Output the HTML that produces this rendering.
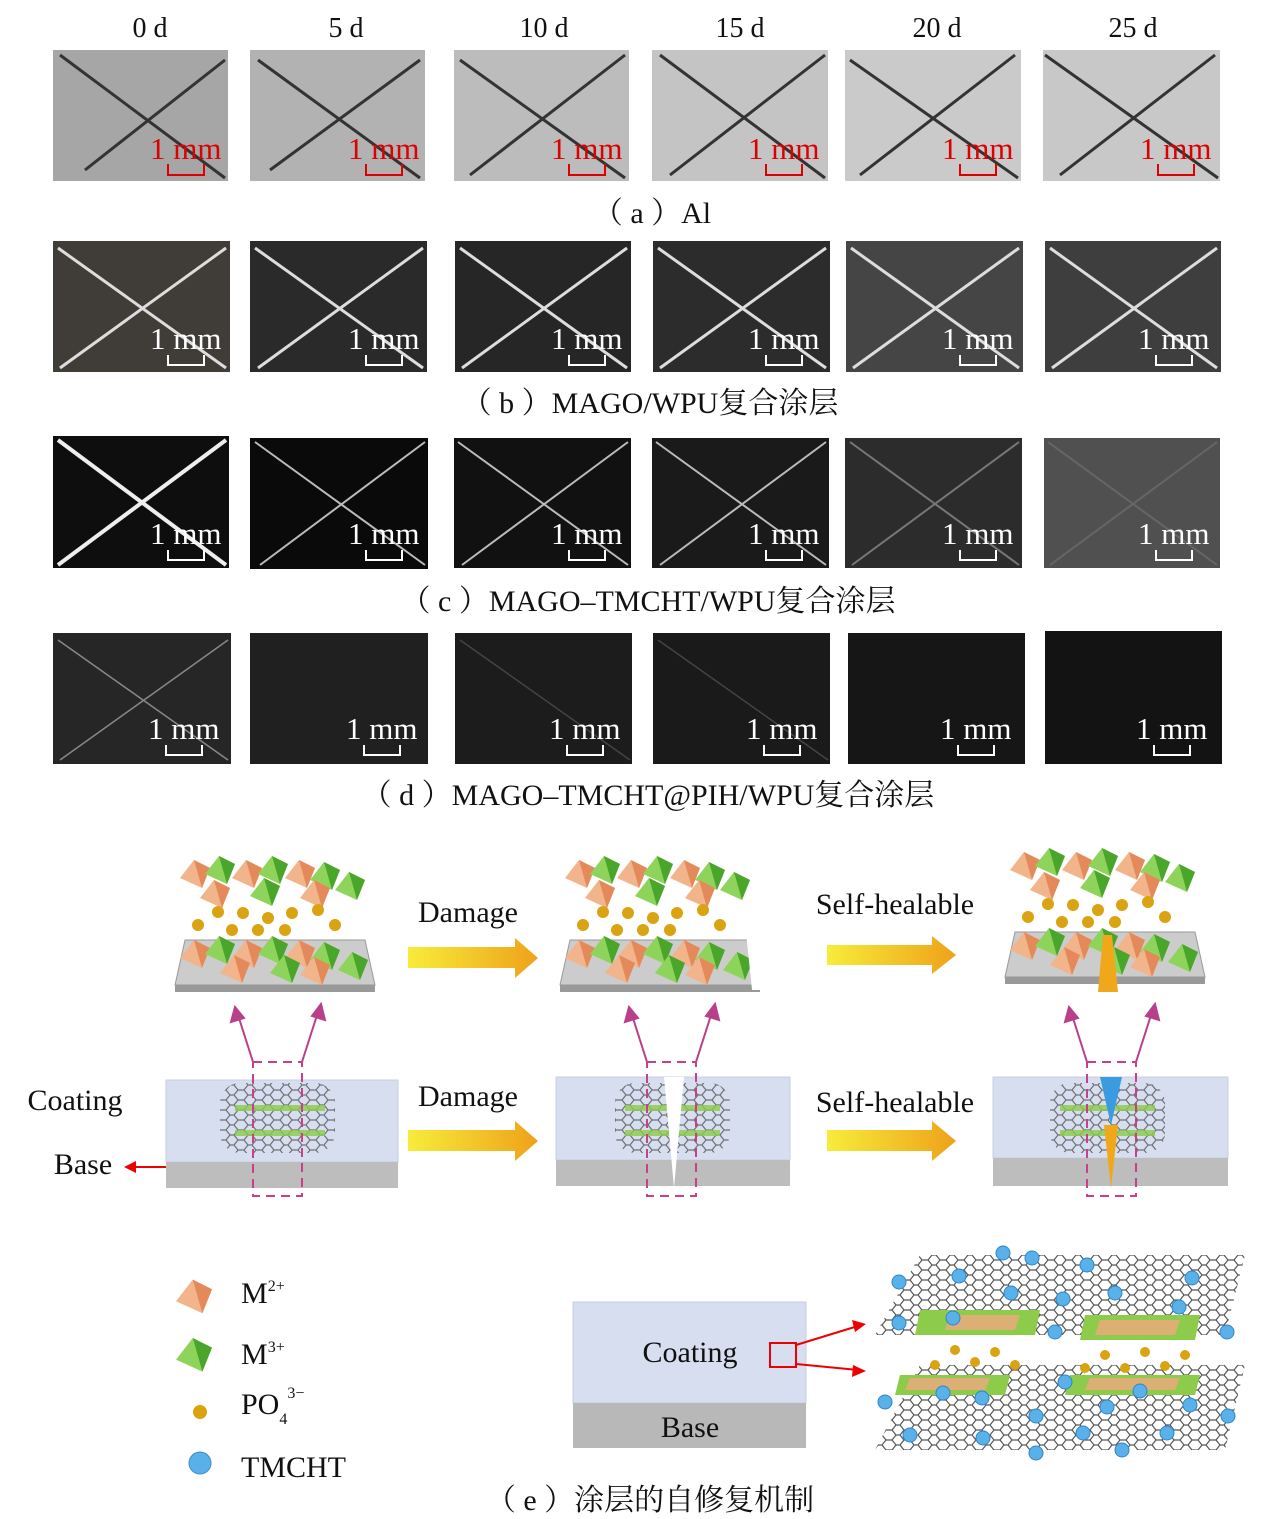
<!DOCTYPE html>
<html><head><meta charset="utf-8"><style>
html,body{margin:0;padding:0;background:#fff}
svg{display:block}
text{font-family:"Liberation Serif","Noto Serif CJK SC",serif}
.k{fill:#111}
.w{fill:#fff}
.r{fill:#d00}
</style></head><body>
<svg width="1271" height="1519" viewBox="0 0 1271 1519" xmlns="http://www.w3.org/2000/svg">
<defs>
<linearGradient id="ar" x1="0" x2="1"><stop offset="0" stop-color="#f7ec3a"/><stop offset="1" stop-color="#eea21a"/></linearGradient>
<pattern id="hex" width="18" height="10" patternUnits="userSpaceOnUse"><path d="M0 5 L4 0 L10 0 L14 5 L10 10 L4 10 Z M14 5 L18 5" fill="none" stroke="#555" stroke-width="1.2"/></pattern>
<g id="pyr"><polygon points="0,18 14,0 30,8 22,28" fill="#f2b48a"/><polygon points="14,0 30,8 22,28" fill="#e48a5a"/></g>
<g id="gpyr"><polygon points="0,18 14,0 30,8 22,28" fill="#8ed45a"/><polygon points="14,0 30,8 22,28" fill="#4aa62a"/></g>
</defs>

<g font-size="28" text-anchor="middle" class="k">
<text class="k" x="150" y="37">0 d</text><text class="k" x="346" y="37">5 d</text><text class="k" x="544" y="37">10 d</text>
<text class="k" x="740" y="37">15 d</text><text class="k" x="937" y="37">20 d</text><text class="k" x="1133" y="37">25 d</text>
</g>

<!-- Row a -->
<g>
<rect x="53" y="50" width="175" height="131" fill="#a6a6a6"/><rect x="250" y="50" width="175" height="131" fill="#b2b2b2"/>
<rect x="454" y="50" width="175" height="131" fill="#bcbcbc"/><rect x="652" y="50" width="176" height="131" fill="#c4c4c4"/>
<rect x="845" y="50" width="176" height="131" fill="#cacaca"/><rect x="1043" y="50" width="177" height="131" fill="#c8c8c8"/>
<g stroke="#333" stroke-width="3">
<line x1="60" y1="55" x2="225" y2="178"/><line x1="225" y1="60" x2="85" y2="170"/>
<line x1="258" y1="60" x2="420" y2="178"/><line x1="420" y1="60" x2="270" y2="170"/>
<line x1="460" y1="60" x2="625" y2="178"/><line x1="625" y1="55" x2="470" y2="175"/>
<line x1="660" y1="55" x2="825" y2="178"/><line x1="825" y1="55" x2="670" y2="175"/>
<line x1="850" y1="60" x2="1018" y2="178"/><line x1="1015" y1="55" x2="860" y2="175"/>
<line x1="1045" y1="55" x2="1218" y2="178"/><line x1="1215" y1="55" x2="1060" y2="175"/>
</g>
</g>
<!-- Row b -->
<g>
<rect x="53" y="241" width="177" height="131" fill="#403c38"/><rect x="250" y="241" width="177" height="131" fill="#2a2a2a"/>
<rect x="455" y="241" width="176" height="131" fill="#262626"/><rect x="653" y="241" width="177" height="131" fill="#2c2c2c"/>
<rect x="846" y="241" width="177" height="131" fill="#454545"/><rect x="1045" y="241" width="176" height="131" fill="#3e3e3e"/>
<g stroke="#ddd" stroke-width="3">
<line x1="58" y1="248" x2="226" y2="368"/><line x1="226" y1="248" x2="60" y2="368"/>
<line x1="255" y1="248" x2="423" y2="368"/><line x1="423" y1="248" x2="258" y2="368"/>
<line x1="460" y1="248" x2="627" y2="368"/><line x1="627" y1="248" x2="462" y2="368"/>
<line x1="658" y1="248" x2="826" y2="368"/><line x1="826" y1="248" x2="660" y2="368"/>
<line x1="851" y1="248" x2="1019" y2="368"/><line x1="1019" y1="248" x2="853" y2="368"/>
<line x1="1050" y1="248" x2="1217" y2="368"/><line x1="1217" y1="248" x2="1052" y2="368"/>
</g>
</g>
<!-- Row c -->
<g>
<rect x="53" y="436" width="176" height="132" fill="#0e0e0e"/><rect x="250" y="438" width="178" height="131" fill="#0a0a0a"/>
<rect x="454" y="438" width="177" height="130" fill="#111"/><rect x="652" y="438" width="177" height="130" fill="#1a1a1a"/>
<rect x="845" y="438" width="177" height="130" fill="#2c2c2c"/><rect x="1044" y="438" width="176" height="130" fill="#505050"/>
<g stroke="#eee" stroke-width="4">
<line x1="58" y1="440" x2="226" y2="565"/><line x1="226" y1="440" x2="58" y2="565"/>
</g>
<g stroke="#bbb" stroke-width="2">
<line x1="255" y1="442" x2="425" y2="565"/><line x1="425" y1="442" x2="260" y2="565"/>
<line x1="458" y1="442" x2="628" y2="565"/><line x1="628" y1="442" x2="462" y2="565"/>
<line x1="656" y1="442" x2="826" y2="565"/><line x1="826" y1="442" x2="660" y2="565"/>
</g>
<g stroke="#777" stroke-width="2">
<line x1="850" y1="442" x2="1019" y2="565"/><line x1="1019" y1="442" x2="852" y2="565"/>
</g>
<g stroke="#666" stroke-width="2">
<line x1="1048" y1="442" x2="1217" y2="565"/><line x1="1217" y1="442" x2="1050" y2="565"/>
</g>
</g>
<!-- Row d -->
<g>
<rect x="53" y="633" width="178" height="131" fill="#262626"/><rect x="250" y="633" width="178" height="131" fill="#202020"/>
<rect x="455" y="633" width="177" height="131" fill="#1c1c1c"/><rect x="653" y="633" width="177" height="131" fill="#1a1a1a"/>
<rect x="848" y="633" width="177" height="131" fill="#161616"/><rect x="1045" y="631" width="177" height="133" fill="#131313"/>
<g stroke="#888" stroke-width="1.5">
<line x1="58" y1="640" x2="228" y2="760"/><line x1="228" y1="640" x2="60" y2="760"/>
</g>
<g stroke="#444" stroke-width="1.5">
<line x1="460" y1="640" x2="630" y2="760"/><line x1="658" y1="640" x2="828" y2="760"/>
</g>
</g>

<!-- scale bars -->
<g font-size="31">
<text class="r" x="150" y="159">1 mm</text><text class="r" x="348" y="159">1 mm</text>
<text class="r" x="551" y="159">1 mm</text><text class="r" x="748" y="159">1 mm</text>
<text class="r" x="942" y="159">1 mm</text><text class="r" x="1140" y="159">1 mm</text>
<path d="M168 164V175H204V164M366 164V175H402V164M569 164V175H605V164M766 164V175H802V164M960 164V175H996V164M1158 164V175H1194V164" fill="none" stroke="#d00" stroke-width="2"/>

<text class="w" x="150" y="349">1 mm</text><text class="w" x="348" y="349">1 mm</text><text class="w" x="551" y="349">1 mm</text>
<text class="w" x="748" y="349">1 mm</text><text class="w" x="942" y="349">1 mm</text><text class="w" x="1138" y="349">1 mm</text>
<path d="M168 355V365H204V355M366 355V365H402V355M569 355V365H605V355M766 355V365H802V355M960 355V365H996V355M1156 355V365H1192V355" fill="none" stroke="#fff" stroke-width="2"/>
<text class="w" x="150" y="544">1 mm</text><text class="w" x="348" y="544">1 mm</text><text class="w" x="551" y="544">1 mm</text>
<text class="w" x="748" y="544">1 mm</text><text class="w" x="942" y="544">1 mm</text><text class="w" x="1138" y="544">1 mm</text>
<path d="M168 550V560H204V550M366 550V560H402V550M569 550V560H605V550M766 550V560H802V550M960 550V560H996V550M1156 550V560H1192V550" fill="none" stroke="#fff" stroke-width="2"/>
<text class="w" x="148" y="739">1 mm</text><text class="w" x="346" y="739">1 mm</text><text class="w" x="549" y="739">1 mm</text>
<text class="w" x="746" y="739">1 mm</text><text class="w" x="940" y="739">1 mm</text><text class="w" x="1136" y="739">1 mm</text>
<path d="M166 745V755H202V745M364 745V755H400V745M567 745V755H603V745M764 745V755H800V745M958 745V755H994V745M1154 745V755H1190V745" fill="none" stroke="#fff" stroke-width="2"/>
</g>

<!-- captions -->
<g font-size="30" text-anchor="middle">
<text class="k" x="652" y="223">（ a ）Al</text>
<text class="k" x="650" y="413">（ b ）MAGO/WPU复合涂层</text>
<text class="k" x="648" y="611">（ c ）MAGO–TMCHT/WPU复合涂层</text>
<text class="k" x="648" y="805">（ d ）MAGO–TMCHT@PIH/WPU复合涂层</text>
<text class="k" x="650" y="1510">（ e ）涂层的自修复机制</text>
</g>

<!-- top structures -->
<g id="s1">
<polygon points="185,940 365,940 375,985 175,985" fill="#ccc" stroke="#999"/>
<rect x="175" y="985" width="200" height="7" fill="#999"/>
<use href="#pyr" x="180" y="860"/><use href="#gpyr" x="205" y="856"/><use href="#pyr" x="232" y="860"/><use href="#gpyr" x="258" y="856"/><use href="#pyr" x="285" y="860"/><use href="#gpyr" x="310" y="862"/><use href="#gpyr" x="335" y="872"/><use href="#pyr" x="200" y="880"/><use href="#gpyr" x="250" y="878"/><use href="#pyr" x="300" y="880"/>
<use href="#pyr" x="180" y="940"/><use href="#gpyr" x="205" y="936"/><use href="#pyr" x="232" y="940"/><use href="#gpyr" x="258" y="936"/><use href="#pyr" x="285" y="940"/><use href="#gpyr" x="310" y="942"/><use href="#gpyr" x="338" y="952"/><use href="#pyr" x="220" y="955"/><use href="#gpyr" x="270" y="955"/><use href="#pyr" x="300" y="957"/>
<g fill="#d9a311"><circle cx="198" cy="925" r="6"/><circle cx="218" cy="912" r="6"/><circle cx="243" cy="913" r="6"/><circle cx="268" cy="918" r="6"/><circle cx="292" cy="913" r="6"/><circle cx="318" cy="910" r="6"/><circle cx="232" cy="930" r="6"/><circle cx="258" cy="930" r="6"/><circle cx="285" cy="930" r="6"/><circle cx="335" cy="925" r="6"/></g>
</g>
<use href="#s1" x="385" y="0"/>
<rect x="648" y="930" width="14" height="60" fill="#fff" transform="skewX(6)"/>
<use href="#s1" x="830" y="-8"/>
<polygon points="1103,935 1112,935 1118,992 1098,992" fill="#f0a81a"/>

<!-- arrows -->
<g fill="url(#ar)">
<polygon points="408,947 515,947 515,938 538,958 515,978 515,968 408,968"/>
<polygon points="827,945 932,945 932,936 956,955 932,974 932,965 827,965"/>
<polygon points="408,1130 515,1130 515,1121 538,1141 515,1161 515,1151 408,1151"/>
<polygon points="827,1130 932,1130 932,1121 956,1141 932,1161 932,1151 827,1151"/>
</g>
<g font-size="30" text-anchor="middle">
<text class="k" x="468" y="922">Damage</text><text class="k" x="895" y="914">Self-healable</text>
<text class="k" x="468" y="1106">Damage</text><text class="k" x="895" y="1112">Self-healable</text>
<text class="k" x="75" y="1110">Coating</text><text class="k" x="83" y="1174">Base</text>
</g>
<line x1="180" y1="1167" x2="130" y2="1167" stroke="#e00" stroke-width="2"/><polygon points="124,1167 136,1161 136,1173" fill="#e00"/>

<!-- bottom boxes -->
<g>
<rect x="166" y="1080" width="232" height="82" fill="#d6deef" stroke="#c8cfe0"/><rect x="166" y="1162" width="232" height="26" fill="#bdbdbd"/>
<rect x="556" y="1077" width="234" height="83" fill="#d6deef" stroke="#c8cfe0"/><rect x="556" y="1160" width="234" height="26" fill="#bdbdbd"/>
<rect x="993" y="1077" width="235" height="81" fill="#d6deef" stroke="#c8cfe0"/><rect x="993" y="1158" width="235" height="28" fill="#bdbdbd"/>
<rect x="220" y="1083" width="115" height="70" fill="url(#hex)" opacity="0.8" rx="20"/>
<rect x="615" y="1083" width="115" height="70" fill="url(#hex)" opacity="0.8" rx="20"/>
<rect x="1050" y="1083" width="115" height="70" fill="url(#hex)" opacity="0.8" rx="20"/>
<g fill="#8ccc4a" opacity="0.8"><rect x="235" y="1105" width="90" height="6"/><rect x="235" y="1130" width="90" height="6"/><rect x="625" y="1105" width="95" height="6"/><rect x="625" y="1130" width="95" height="6"/><rect x="1060" y="1105" width="95" height="6"/><rect x="1060" y="1130" width="95" height="6"/></g>
<polygon points="664,1077 684,1077 674,1188" fill="#fff"/>
<polygon points="1100,1077 1122,1077 1111,1125" fill="#3a9be0"/>
<polygon points="1104,1125 1118,1125 1111,1188" fill="#f0a81a"/>
<g fill="none" stroke="#c8408a" stroke-width="2" stroke-dasharray="9,6">
<rect x="253" y="1062" width="49" height="134"/><rect x="647" y="1062" width="49" height="134"/><rect x="1087" y="1062" width="49" height="134"/>
</g>
<g stroke="#b8408a" stroke-width="2" fill="#b8408a">
<line x1="253" y1="1062" x2="238" y2="1015"/><line x1="302" y1="1062" x2="318" y2="1012"/>
<line x1="647" y1="1062" x2="632" y2="1015"/><line x1="696" y1="1062" x2="712" y2="1012"/>
<line x1="1087" y1="1062" x2="1072" y2="1015"/><line x1="1136" y1="1062" x2="1152" y2="1012"/>
<polygon points="235,1007 231,1022 244,1018"/><polygon points="321,1004 312,1016 325,1020"/>
<polygon points="629,1007 625,1022 638,1018"/><polygon points="715,1004 706,1016 719,1020"/>
<polygon points="1069,1007 1065,1022 1078,1018"/><polygon points="1155,1004 1146,1016 1159,1020"/>
</g>
</g>

<!-- legend -->
<use href="#pyr" x="180" y="1283" transform="translate(-40,-260) scale(1.2)"/>
<use href="#gpyr" x="180" y="1340" transform="translate(-40,-270) scale(1.2)"/>
<circle cx="200" cy="1412" r="7" fill="#d9a311"/>
<circle cx="200" cy="1463" r="11" fill="#5ab0e8" stroke="#3a8ed0"/>
<g font-size="30">
<text class="k" x="241" y="1303">M<tspan font-size="16" dy="-12">2+</tspan></text>
<text class="k" x="241" y="1364">M<tspan font-size="16" dy="-12">3+</tspan></text>
<text class="k" x="241" y="1414">PO<tspan font-size="16" dy="10">4</tspan><tspan font-size="16" dy="-26">3−</tspan></text>
<text class="k" x="241" y="1477">TMCHT</text>
</g>
<rect x="573" y="1302" width="233" height="101" fill="#d6deef" stroke="#c8cfe0"/>
<rect x="573" y="1403" width="233" height="45" fill="#b8b8b8"/>
<g font-size="30" text-anchor="middle"><text class="k" x="690" y="1362">Coating</text><text class="k" x="690" y="1437">Base</text></g>
<rect x="770" y="1343" width="26" height="24" fill="none" stroke="#e00" stroke-width="2"/>
<g stroke="#e00" stroke-width="2"><line x1="796" y1="1345" x2="858" y2="1326"/><line x1="796" y1="1364" x2="858" y2="1370"/></g>
<polygon points="866,1324 852,1320 855,1332" fill="#e00"/><polygon points="866,1371 853,1365 852,1377" fill="#e00"/>

<!-- graphene -->
<polygon points="920,1255 1245,1255 1225,1335 875,1335" fill="url(#hex)"/>
<polygon points="920,1365 1245,1365 1225,1450 875,1450" fill="url(#hex)"/>
<g fill="#8ccc4a"><polygon points="920,1310 1040,1310 1035,1335 915,1335"/><polygon points="1085,1315 1200,1315 1195,1340 1080,1340"/><polygon points="900,1375 1010,1375 1005,1395 895,1395"/><polygon points="1070,1375 1200,1375 1195,1395 1065,1395"/></g>
<g fill="#f0a880" opacity="0.8"><polygon points="950,1315 1020,1315 1015,1330 945,1330"/><polygon points="1100,1320 1180,1320 1175,1335 1095,1335"/><polygon points="910,1378 990,1378 985,1390 905,1390"/><polygon points="1090,1378 1180,1378 1175,1390 1085,1390"/></g>
<g fill="#d9a311"><circle cx="935" cy="1365" r="5"/><circle cx="955" cy="1350" r="5"/><circle cx="975" cy="1362" r="5"/><circle cx="995" cy="1352" r="5"/><circle cx="1015" cy="1365" r="5"/><circle cx="1105" cy="1355" r="5"/><circle cx="1125" cy="1368" r="5"/><circle cx="1145" cy="1352" r="5"/><circle cx="1165" cy="1366" r="5"/><circle cx="1185" cy="1355" r="5"/><circle cx="1085" cy="1368" r="5"/></g>
<g fill="#5ab0e8" stroke="#2f86c8">
<circle cx="1003" cy="1253" r="7"/><circle cx="1032" cy="1258" r="7"/><circle cx="899" cy="1282" r="7"/><circle cx="959" cy="1276" r="7"/><circle cx="1087" cy="1265" r="7"/><circle cx="1192" cy="1278" r="7"/><circle cx="1011" cy="1293" r="7"/><circle cx="1063" cy="1299" r="7"/><circle cx="1115" cy="1293" r="7"/><circle cx="899" cy="1323" r="7"/><circle cx="953" cy="1318" r="7"/><circle cx="1055" cy="1332" r="7"/><circle cx="1179" cy="1307" r="7"/><circle cx="1227" cy="1332" r="7"/>
<circle cx="885" cy="1402" r="7"/><circle cx="943" cy="1393" r="7"/><circle cx="982" cy="1398" r="7"/><circle cx="1065" cy="1382" r="7"/><circle cx="1140" cy="1391" r="7"/><circle cx="1190" cy="1405" r="7"/><circle cx="1228" cy="1416" r="7"/><circle cx="1036" cy="1416" r="7"/><circle cx="1107" cy="1407" r="7"/><circle cx="910" cy="1435" r="7"/><circle cx="983" cy="1438" r="7"/><circle cx="1083" cy="1433" r="7"/><circle cx="1167" cy="1433" r="7"/><circle cx="1036" cy="1453" r="7"/><circle cx="1122" cy="1450" r="7"/>
</g>
</svg>
</body></html>
